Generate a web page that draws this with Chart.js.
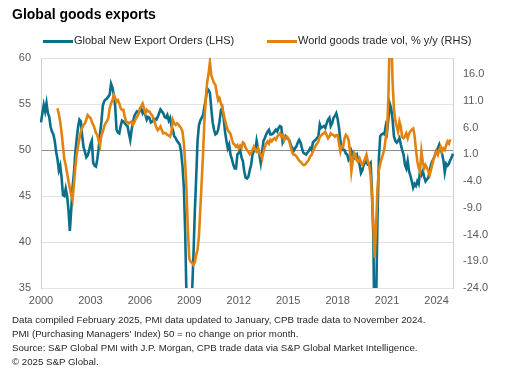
<!DOCTYPE html>
<html>
<head>
<meta charset="utf-8">
<script src="https://cdn.jsdelivr.net/npm/chart.js@4.4.1/dist/chart.umd.min.js"></script>
<style>
  body { margin: 0; background: #fff; font-family: "Liberation Sans", Arial, sans-serif; }
  #wrap { position: relative; width: 508px; height: 371px; overflow: hidden; }
  #myChart { position: absolute; left: 0; top: 0; }
  .title { position: absolute; left: 12px; top: 6px; font-weight: bold; font-size: 14px; color: #000; }
  .legend { position: absolute; top: 34px; font-size: 11px; line-height: 13px; color: #262626; white-space: nowrap; }
  .legend i { display: inline-block; width: 30px; height: 3px; vertical-align: middle; margin-right: 1px; }
  .notes { position: absolute; left: 12px; top: 313px; font-size: 9.7px; line-height: 14px; color: #262626; }
</style>
</head>
<body>
<div id="wrap">
  <canvas id="myChart" width="508" height="371"></canvas>
  <div class="title">Global goods exports</div>
  <div class="legend" style="left:43px"><i style="background:#0b6e8a"></i>Global New Export Orders (LHS)</div>
  <div class="legend" style="left:267px"><i style="background:#e3830f"></i>World goods trade vol, % y/y (RHS)</div>
  <div class="notes">
    Data compiled February 2025, PMI data updated to January, CPB trade data to November 2024.<br>
    PMI (Purchasing Managers' Index) 50 = no change on prior month.<br>
    Source: S&amp;P Global PMI with J.P. Morgan, CPB trade data via S&amp;P Global Market Intelligence.<br>
    &copy; 2025 S&amp;P Global.
  </div>
</div>
<script>
// monthly, Jan 2000 - Jan 2025 (LHS)
var exportOrders = [
  53.0, 54.0, 54.9, 54.2, 55.1, 54.0, 53.6, 52.5, 52.0, 51.7, 51.0, 49.8, // 2000
  49.0, 47.8, 48.3, 47.0, 45.1, 45.0, 45.8, 45.0, 43.5, 41.2, 43.5, 46.0, // 2001
  47.5, 49.8, 51.2, 52.5, 53.3, 53.1, 51.5, 50.3, 49.8, 49.2, 49.4, 49.9, // 2002
  50.6, 51.0, 48.6, 48.3, 48.2, 49.0, 50.2, 51.8, 53.1, 54.8, 55.3, 55.5, // 2003
  55.6, 55.8, 56.0, 57.2, 56.8, 56.0, 54.8, 52.2, 51.9, 51.8, 52.6, 53.2, // 2004
  53.1, 52.9, 52.7, 52.6, 51.8, 51.1, 52.2, 53.1, 53.7, 54.0, 54.2, 54.1, // 2005
  54.2, 54.5, 54.0, 54.3, 53.8, 53.3, 53.6, 53.5, 53.0, 53.1, 53.3, 53.4, // 2006
  53.3, 53.6, 54.0, 54.4, 54.2, 54.0, 53.6, 53.5, 53.8, 53.2, 53.5, 52.6, // 2007
  52.2, 51.5, 51.3, 51.0, 50.8, 50.6, 49.8, 48.3, 46.0, 41.0, 33.5, 29.5, // 2008
  30.0, 31.5, 34.5, 38.5, 43.3, 47.0, 51.0, 52.7, 53.2, 53.5, 53.8, 54.7, // 2009
  55.5, 56.7, 56.5, 56.2, 54.5, 53.0, 52.2, 51.7, 51.8, 52.2, 53.1, 54.3, // 2010
  54.6, 53.5, 52.0, 51.0, 50.2, 50.6, 49.5, 49.0, 48.4, 48.0, 48.0, 49.5, // 2011
  49.7, 50.0, 49.2, 48.8, 47.7, 47.0, 46.9, 47.1, 47.8, 48.4, 49.5, 49.9, // 2012
  49.9, 51.0, 50.2, 49.5, 48.6, 49.8, 51.0, 51.3, 51.7, 52.0, 52.2, 51.7, // 2013
  51.7, 51.8, 52.0, 52.2, 52.0, 52.4, 52.6, 52.5, 50.8, 51.1, 51.5, 51.3, // 2014
  51.2, 51.0, 50.5, 50.2, 49.9, 50.2, 50.4, 50.8, 51.1, 50.8, 50.2, 49.7, // 2015
  49.6, 49.5, 49.7, 49.9, 50.2, 50.0, 50.8, 51.0, 51.1, 51.3, 51.5, 52.8, // 2016
  52.4, 52.5, 52.6, 52.4, 52.9, 53.3, 53.5, 52.6, 52.9, 53.5, 53.7, 54.0, // 2017
  53.4, 52.4, 51.0, 50.3, 50.0, 50.0, 49.6, 49.5, 48.9, 49.1, 49.9, 49.5, // 2018
  49.1, 49.3, 49.5, 48.8, 48.4, 47.5, 47.8, 48.4, 48.6, 49.1, 48.4, 48.4, // 2019
  48.6, 45.5, 40.5, 27.5, 33.0, 42.5, 49.0, 51.5, 51.7, 51.8, 51.7, 52.6, // 2020
  52.0, 53.5, 55.0, 54.5, 53.3, 51.5, 51.0, 50.8, 51.0, 51.3, 50.6, 50.0, // 2021
  49.5, 48.4, 48.0, 48.8, 47.7, 47.2, 46.6, 45.9, 46.3, 46.1, 46.6, 46.3, // 2022
  47.7, 47.3, 47.7, 47.1, 46.6, 46.8, 47.0, 47.7, 48.4, 48.8, 49.1, 49.5, // 2023
  50.0, 50.2, 50.6, 50.1, 49.6, 48.9, 47.6, 48.5, 48.3, 48.5, 48.9, 49.2, // 2024
  49.6                                                                    // 2025
];

// monthly, Jan 2001 - Nov 2024 (RHS)
var tradeVol = [
  9.6, 8.5, 7.1, 5.0, 2.5, 0.0, -1.0, -2.5, -4.0, -5.4, -6.6, -7.5,        // 2001
  -4.5, -1.5, 1.0, 2.5, 4.0, 5.2, 6.0, 6.5, 6.8, 7.5, 8.3, 8.0,            // 2002
  7.8, 7.1, 6.5, 5.9, 5.0, 4.6, 3.5, 2.7, 4.6, 5.2, 6.2, 6.8,              // 2003
  7.2, 7.7, 9.6, 10.5, 11.1, 12.1, 11.5, 10.8, 11.1, 10.5, 9.6, 9.3,       // 2004
  9.3, 8.0, 7.1, 7.0, 6.8, 7.0, 7.1, 6.5, 7.0, 7.7, 8.0, 8.5,              // 2005
  9.6, 10.0, 10.5, 9.6, 8.7, 9.3, 9.0, 9.0, 8.5, 8.3, 7.5, 6.8,            // 2006
  6.0, 5.5, 5.8, 6.2, 5.5, 4.9, 5.0, 4.9, 4.6, 4.5, 4.3, 5.2,              // 2007
  7.4, 6.8, 6.5, 6.8, 6.6, 6.2, 5.9, 5.3, 3.1, -0.7, -6.0, -13.5,          // 2008
  -18.5, -19.1, -19.3, -19.7, -19.2, -17.8, -16.8, -14.3, -9.3, -4.1, 1.1, 7.3, // 2009
  11.5, 14.5, 16.0, 18.3, 15.8, 15.0, 14.3, 14.0, 12.4, 11.1, 11.5, 10.5,  // 2010
  9.8, 8.5, 7.4, 6.4, 5.5, 5.2, 4.8, 3.8, 3.0, 2.8, 2.4, 2.7,              // 2011
  2.1, 2.6, 2.2, 3.2, 3.0, 2.2, 1.8, 1.5, 1.0, 1.2, 1.8, 2.4,              // 2012
  1.8, 1.5, 2.1, 1.2, 0.9, 0.2, 1.5, 2.4, 3.0, 3.4, 3.0, 3.7,              // 2013
  3.4, 3.8, 4.0, 3.7, 4.3, 4.6, 4.9, 4.3, 4.6, 3.7, 4.2, 4.3,              // 2014
  4.0, 3.2, 2.2, 1.3, 0.9, 0.9, 0.6, 0.2, -0.2, -0.4, -0.7, -1.0,          // 2015
  -1.0, -0.7, -0.4, 0.0, 0.6, 0.9, 1.5, 2.1, 2.6, 3.0, 3.4, 4.3,           // 2016
  4.5, 4.8, 4.9, 5.2, 4.6, 4.0, 4.3, 4.9, 4.7, 4.6, 4.3, 4.6,              // 2017
  4.6, 3.0, 1.5, 2.5, 2.4, 4.0, 4.6, 4.3, 3.6, 1.5, -2.2, -0.3,            // 2018
  1.3, 0.9, -0.2, -0.4, 0.2, -0.5, -1.0, -0.4, 0.2, 0.9, -0.4, -1.0,       // 2019
  -3.0, -7.0, -12.0, -18.4, -12.5, -5.5, -2.0, -0.8, 0.2, 1.0, 2.0, 4.0,   // 2020
  5.5, 12.0, 24.0, 25.0, 14.5, 9.5, 7.3, 6.2, 5.2, 7.1, 6.2, 4.2,          // 2021
  4.0, 4.3, 4.9, 4.0, 4.9, 5.3, 5.6, 5.8, 4.5, 2.0, -0.3, -1.5,            // 2022
  -2.2, 1.5, -0.4, -1.6, -1.0, -1.5, -2.2, -2.9, -1.9, -0.8, 0.2, 0.9,     // 2023
  1.5, 0.9, 1.8, 2.4, 1.5, 2.1, 1.8, 2.7, 3.4, 3.0, 3.8                    // 2024
];

var lhsTicks = [35, 40, 45, 50, 55, 60];
var rhsTicks = [-24, -19, -14, -9, -4, 1, 6, 11, 16];
var yearLabels = ["2000", "2003", "2006", "2009", "2012", "2015", "2018", "2021", "2024"];

// one label per month, trade series starts 12 months later and ends 2 months earlier
var monthLabels = exportOrders.map(function (v, i) {
  var y = 2000 + Math.floor(i / 12), m = (i % 12) + 1;
  return y + "-" + (m < 10 ? "0" + m : m);
});
var tradeData = new Array(12).fill(null).concat(tradeVol);
while (tradeData.length < monthLabels.length) tradeData.push(null);

Chart.defaults.font.family = "'Liberation Sans', Arial, sans-serif";
Chart.defaults.font.size = 11;
Chart.defaults.color = "#595959";

new Chart("myChart", {
  type: "line",
  data: {
    labels: monthLabels,
    datasets: [{
      label: "Global New Export Orders (LHS)",
      data: exportOrders,
      borderColor: "#0b6e8a",
      borderWidth: 2.6,
      pointRadius: 0,
      yAxisID: "y",
      order: 2
    }, {
      label: "World goods trade vol, % y/y (RHS)",
      data: tradeData,
      borderColor: "#e3830f",
      borderWidth: 2.6,
      pointRadius: 0,
      yAxisID: "y1",
      order: 1
    }]
  },
  options: {
    responsive: false,
    animation: false,
    layout: { padding: { top: 58, bottom: 61, left: 0, right: 0 } },
    plugins: { legend: { display: false }, tooltip: { enabled: false } },
    scales: {
      x: {
        type: "category",
        grid: { display: false, drawTicks: false },
        border: { display: false },
        ticks: {
          autoSkip: false, maxRotation: 0, padding: 6,
          callback: function (val) {
            var lab = this.getLabelForValue(val);
            var yr = lab.slice(0, 4);
            return (lab.slice(5) === "01" && yearLabels.indexOf(yr) >= 0) ? yr : null;
          }
        },
        afterFit: function (s) { s.height = 22; }
      },
      y: {
        position: "left",
        min: 35, max: 60,
        afterBuildTicks: function (s) { s.ticks = lhsTicks.map(function (v) { return { value: v }; }); },
        grid: {
          drawTicks: false,
          color: function (c) { return c.tick && c.tick.value === 50 ? "#8c8c8c" : "#e3e3e3"; }
        },
        border: { display: true, color: "#d0d0d0" },
        ticks: { padding: 10 },
        afterFit: function (s) { s.width = 41; }
      },
      y1: {
        position: "right",
        min: -24, max: 19,
        afterBuildTicks: function (s) { s.ticks = rhsTicks.map(function (v) { return { value: v }; }); },
        grid: { drawOnChartArea: false, drawTicks: false },
        border: { display: true, color: "#d0d0d0" },
        ticks: { padding: 10, callback: function (v) { return v.toFixed(1); } },
        afterFit: function (s) { s.width = 55; }
      }
    }
  }
});
</script>
</body>
</html>
